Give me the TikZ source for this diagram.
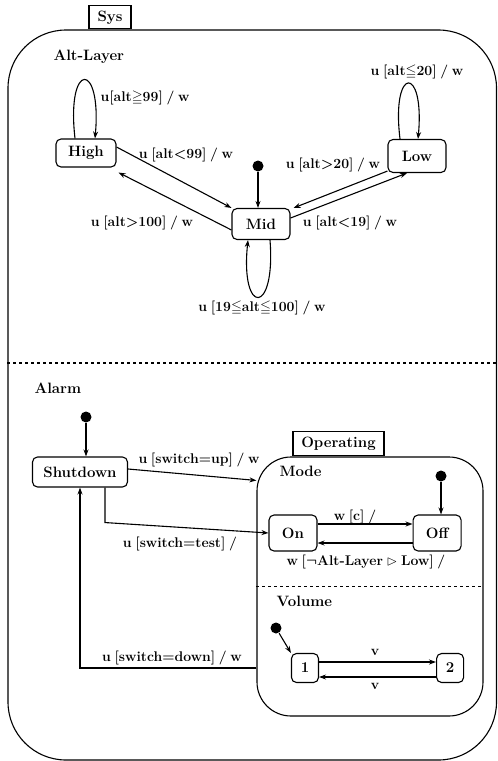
\documentclass[tikz,border=0pt]{standalone}
\usepackage{amsmath,amssymb}
\usepackage{tikz}
\usetikzlibrary{arrows.meta,positioning,calc}
\newcommand{\tightsp}{\spaceskip=0.26em plus 0.1em\relax}

\begin{document}
\begin{tikzpicture}[
      x=1pt,y=-1pt,
      font=\fontsize{15}{17}\selectfont\bfseries\boldmath\tightsp,
      line width=1.1pt,
      region/.style={draw,rounded corners=#1,inner sep=0pt},
      tabbox/.style={draw,inner sep=0pt},
      stbox/.style={draw,rounded corners=5pt,inner sep=0pt},
      ini/.style={circle,fill,inner sep=0pt,minimum size=11pt},
      ar/.style={-{Stealth[length=7pt,width=5pt]}},
      lbl/.style={inner sep=1pt},
      trig/.style={inner sep=1pt,font=\fontsize{14}{16}\selectfont\bfseries\boldmath\tightsp},
      divider/.style={dash pattern=on 3pt off 3pt},
    ]
    \useasboundingbox (0,0) rectangle (498,761);

    \node[region=58pt,minimum width=488.5pt,minimum height=730pt] (sys) at (252.25,395) {};
    \node[tabbox,minimum width=42pt,minimum height=23pt,
          above right=0pt and 81pt of sys.north west] (systab) {Sys};
    \draw[divider] ($(sys.west)+(0,-32)$) -- ($(sys.east)+(0,-32)$);

    \node[lbl,anchor=west] (altname) at (52,57) {Alt-Layer};
    \node[stbox,minimum width=60pt,minimum height=28pt] (high) at (86,153) {High};
    \node[stbox,minimum width=58pt,minimum height=33pt] (low) at (417,156) {Low};
    \node[stbox,minimum width=58pt,minimum height=31pt] (mid) at (261,224) {Mid};
    \node[ini] (midini) at (258,166) {};

    \draw[ar] ([xshift=-11pt]high.north) .. controls +(-9,-78) and +(7,-78) .. ([xshift=9pt]high.north);
    \node[trig,anchor=west] (highloop) at (99,98) {u[alt$\geqq$99] / w};
    \draw[ar] ([xshift=-17pt]low.north) .. controls +(-9,-74) and +(7,-74) .. ([xshift=1pt]low.north);
    \node[trig] (lowloop) at (417,72) {u [alt$\leqq$20] / w};
    \draw[ar] ([xshift=9pt]mid.south) .. controls +(6,76) and +(-8,76) .. ([xshift=-13pt]mid.south);
    \node[trig] (midloop) at (262,308) {u [19$\leqq$alt$\leqq$100] / w};

    \draw[ar] ([yshift=6pt]high.east) -- (mid.north west);
    \node[trig] (highmid) at (186,155) {u [alt<99] / w};
    \draw[ar] ([yshift=-6pt]mid.west) -- ([xshift=2pt,yshift=-5pt]high.south east);
    \node[trig] (midhigh) at (142,223) {u [alt>100] / w};
    \draw[ar] ([yshift=2pt]low.south west) -- ([xshift=3pt]mid.north east);
    \node[trig] (lowmid) at (333,165) {u [alt>20] / w};
    \draw[ar] ([yshift=6pt]mid.east) -- ([xshift=-10pt]low.south);
    \node[trig] (midlow) at (350,223) {u [alt<19] / w};
    \draw[ar] (midini) -- (midini |- mid.north);

    \node[lbl,anchor=west] (alarmname) at (33,388) {Alarm};
    \node[ini] (alarmini) at (86,417) {};
    \node[stbox,minimum width=95pt,minimum height=30pt] (shut) at (80,472) {Shutdown};

    \node[region=34pt,minimum width=226pt,minimum height=259pt] (op) at (370,586.5) {};
    \node[tabbox,minimum width=91pt,minimum height=24pt,
          above right=0pt and 36pt of op.north west] (optab) {Operating};
    \draw[divider] (op.west) -- (op.east);

    \node[lbl,anchor=west] (modename) at (278,471) {Mode};
    \node[ini] (modeini) at (441,476) {};
    \node[stbox,minimum width=48pt,minimum height=36pt] (on) at (293,533) {On};
    \node[stbox,minimum width=48pt,minimum height=36pt,right=95pt of on] (off) {Off};

    \node[lbl,anchor=west] (volname) at (275,601) {Volume};
    \node[ini] (volini) at (276,628) {};
    \node[stbox,minimum width=27pt,minimum height=29pt] (v1) at (305,668) {1};
    \node[stbox,minimum width=27pt,minimum height=29pt,right=117pt of v1] (v2) {2};

    \draw[ar] (alarmini) -- (alarmini |- shut.north);
    \draw[ar] ([yshift=3pt]shut.east) -- ($(op.north west)+(0,24)$);
    \node[trig] (uplbl) at (199,460) {u [switch=up] / w};
    \draw[ar] ([xshift=25pt]shut.south) -- ++(0,35) -- (on.west);
    \node[trig] (testlbl) at (180,544) {u [switch=test] /};
    \draw[ar] (op.west |- v1.west) -| (shut.south);
    \node[trig] (downlbl) at (172,658) {u [switch=down] / w};

    \draw[ar] (modeini) -- (modeini |- off.north);
    \draw[ar] ([yshift=9pt]on.east) -- ([yshift=9pt]off.west);
    \node[trig] (onoff) at (355,517) {w [c] /};
    \draw[ar] ([yshift=-10pt]off.west) -- ([yshift=-10pt]on.east);
    \node[trig] (offon) at (366,562) {w [$\neg$Alt-Layer $\rhd$ Low] /};

    \draw[ar] (volini) -- (v1.north west);
    \draw[ar] ([yshift=6pt]v1.east) -- ([yshift=6pt]v2.west);
    \node[trig] (fwdv) at (375,652) {v};
    \draw[ar] ([yshift=-9pt]v2.west) -- ([yshift=-9pt]v1.east);
    \node[trig] (backv) at (375,686) {v};
  \end{tikzpicture}
\end{document}
